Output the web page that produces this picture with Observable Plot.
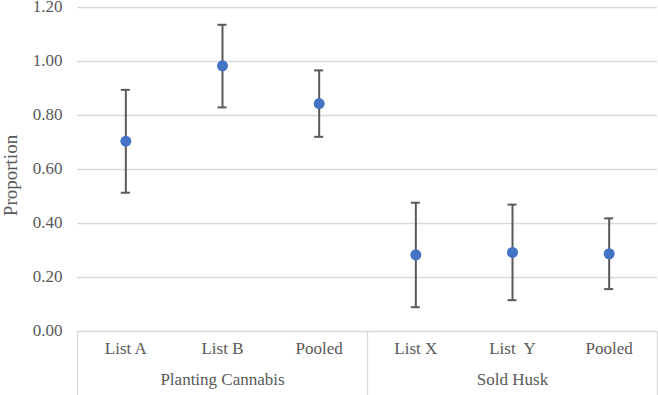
<!DOCTYPE html>
<html><head><meta charset="utf-8">
<script src="https://cdn.jsdelivr.net/npm/d3@7"></script>
<script src="https://cdn.jsdelivr.net/npm/@observablehq/plot@0.6"></script>
<style>body{margin:0;background:#fff}</style>
</head><body><div id="chart"></div>
<script>
const categories = ["List A", "List B", "Pooled", "List X", "List\u00a0 Y", "Pooled"];
const groups = ["Planting Cannabis", "Planting Cannabis", "Planting Cannabis", "Sold Husk", "Sold Husk", "Sold Husk"];
const means = [0.705, 0.984, 0.844, 0.284, 0.293, 0.288];
const lower = [0.514, 0.830, 0.721, 0.090, 0.116, 0.157];
const upper = [0.895, 1.136, 0.967, 0.477, 0.470, 0.419];
const yTicks = [0, 0.2, 0.4, 0.6, 0.8, 1.0, 1.2];
const yLabel = "Proportion";

const rows = categories.map((c, i) => ({
  i, pos: i + 0.5, label: c, group: groups[i], mean: means[i], lo: lower[i], hi: upper[i]
}));
const groupInfo = d3.groups(rows, d => d.group).map(([g, rs]) => ({
  group: g,
  start: rs[0].i,
  end: rs[rs.length - 1].i + 1,
  center: (rs[0].i + rs[rs.length - 1].i + 1) / 2
}));
const boundaries = [0, ...groupInfo.map(g => g.end)];

const font = "'Liberation Serif', 'Times New Roman', serif";
const textColor = "#595959";
const gridColor = "#d9d9d9";
const barColor = "#595959";
const dotColor = "#4472C4";
const mb = 64;

const chart = Plot.plot({
  width: 658,
  height: 395,
  marginTop: 7,
  marginBottom: mb,
  marginLeft: 77,
  marginRight: 1,
  style: {fontFamily: font, fontSize: "17px", background: "#fff"},
  x: {domain: [0, categories.length], axis: null},
  y: {domain: [0, 1.2], axis: null},
  marks: [
    Plot.ruleY(yTicks, {y: d => d, stroke: gridColor, strokeWidth: 1.3}),
    Plot.ruleX(boundaries, {x: d => d, y1: () => 0, y2: () => 0, insetBottom: -mb, stroke: gridColor, strokeWidth: 1.3}),
    Plot.ruleX(rows, {x: "pos", y1: "lo", y2: "hi", stroke: barColor, strokeWidth: 2}),
    Plot.ruleY(rows, {y: "hi", x1: "pos", x2: "pos", insetLeft: -4.5, insetRight: -4.5, stroke: barColor, strokeWidth: 2}),
    Plot.ruleY(rows, {y: "lo", x1: "pos", x2: "pos", insetLeft: -4.5, insetRight: -4.5, stroke: barColor, strokeWidth: 2}),
    Plot.dot(rows, {x: "pos", y: "mean", r: 5.5, fill: dotColor}),
    Plot.text(yTicks, {y: d => d, text: d => d.toFixed(2), frameAnchor: "left", textAnchor: "end", dx: -15, dy: -1, fill: textColor, fontSize: 17}),
    Plot.text(rows, {x: "pos", text: "label", frameAnchor: "bottom", dy: 22, fill: textColor, fontSize: 17}),
    Plot.text(groupInfo, {x: "center", text: "group", frameAnchor: "bottom", dy: 53, fill: textColor, fontSize: 17}),
    Plot.text([yLabel], {text: d => d, frameAnchor: "left", textAnchor: "middle", rotate: -90, dx: -67, dy: 6, fill: textColor, fontSize: 19})
  ]
});
document.getElementById("chart").appendChild(chart);
</script>
</body></html>
